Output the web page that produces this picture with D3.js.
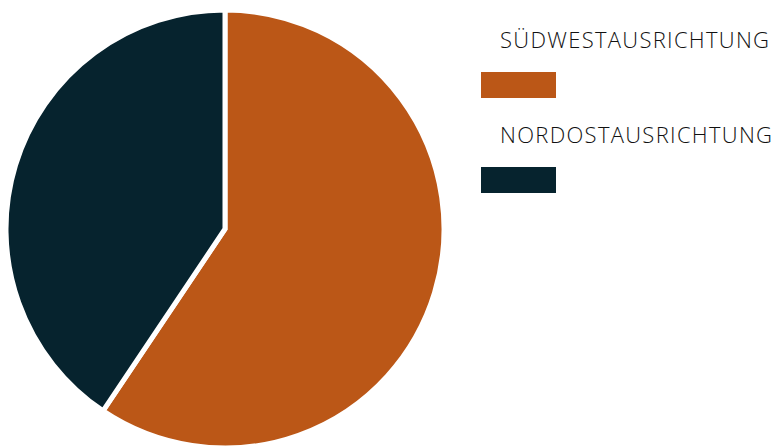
<!DOCTYPE html>
<html>
<head>
<meta charset="utf-8">
<script src="https://cdn.jsdelivr.net/npm/d3@7"></script>
<style>
  body { margin: 0; background: #fff; }
  svg text { font-family: "Open Sans", sans-serif; font-weight: 300; }
</style>
</head>
<body>
<div id="chart"></div>
<script>
const categories = ["SÜDWESTAUSRICHTUNG", "NORDOSTAUSRICHTUNG"];
const values = [59.4, 40.6];
const colors = ["#BB5717", "#06232E"];

const width = 778, height = 448;
const svg = d3.select("#chart").append("svg")
    .attr("width", width)
    .attr("height", height);

const data = categories.map((c, i) => ({ name: c, value: values[i], color: colors[i] }));

const pie = d3.pie().sort(null).value(d => d.value);
const arc = d3.arc().innerRadius(0).outerRadius(219);

const g = svg.append("g").attr("transform", "translate(225,229)");
g.selectAll("path")
    .data(pie(data))
    .enter()
    .append("path")
    .attr("d", arc)
    .attr("fill", d => d.data.color)
    .attr("stroke", "#fff")
    .attr("stroke-width", 5)
    .attr("stroke-linejoin", "miter");

// legend
const legend = svg.append("g");
const items = legend.selectAll("g")
    .data(data)
    .enter()
    .append("g")
    .attr("transform", (d, i) => `translate(481,${72 + i * 95})`);

items.append("rect")
    .attr("width", 75)
    .attr("height", 26)
    .attr("fill", d => d.color);

items.append("text")
    .attr("x", 19)
    .attr("y", -24)
    .attr("font-size", 22)
    .attr("letter-spacing", 1.3)
    .attr("fill", "#111")
    .text(d => d.name);
</script>
</body>
</html>
